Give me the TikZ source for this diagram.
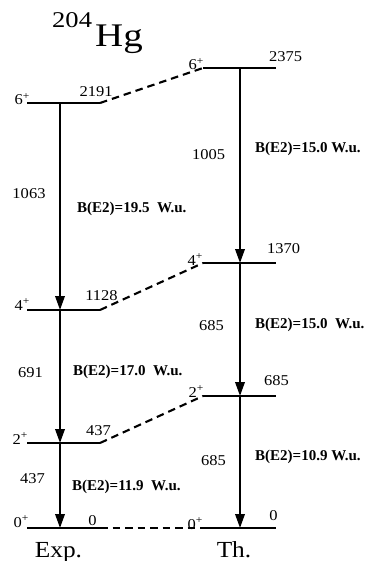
\documentclass[tikz,border=0pt]{standalone}
\usepackage{fontspec}
\setmainfont{Liberation Serif}
\newfontfamily\widefont[FakeStretch=1.1]{Liberation Serif}
\newfontfamily\titlefont[FakeStretch=1.18]{Liberation Serif}
\usetikzlibrary{arrows.meta}
\begin{document}
\begin{tikzpicture}[x=1pt,y=-1pt,
  lvl/.style={line width=2.1pt},
  tr/.style={line width=2pt,-{Triangle[length=14pt,width=9.5pt]}},
  lnk/.style={line width=2.1pt,dash pattern=on 7.5pt off 5pt},
  num/.style={font=\widefont\fontsize{15}{15}\selectfont,inner sep=0pt,anchor=base},
  spin/.style={font=\widefont\fontsize{15}{15}\selectfont,inner sep=0pt,anchor=base east},
  bee/.style={font=\bfseries\fontsize{15}{15}\selectfont,inner sep=0pt,anchor=base west},
]
\fill[white] (0,0) rectangle (372,561);
\useasboundingbox (0,0) rectangle (372,561);

% level coordinates: experiment
\coordinate (e6a) at (27,103);  \coordinate (e6m) at (60,103);  \coordinate (e6b) at (100,103);
\coordinate (e4a) at (27,310);  \coordinate (e4m) at (60,310);  \coordinate (e4b) at (100,310);
\coordinate (e2a) at (27,443);  \coordinate (e2m) at (60,443);  \coordinate (e2b) at (100,443);
\coordinate (e0a) at (27,528);  \coordinate (e0m) at (60,528);  \coordinate (e0b) at (100,528);
% level coordinates: theory
\coordinate (t6a) at (203,68);  \coordinate (t6m) at (240,68);  \coordinate (t6b) at (276,68);
\coordinate (t4a) at (203,263); \coordinate (t4m) at (240,263); \coordinate (t4b) at (276,263);
\coordinate (t2a) at (203,396); \coordinate (t2m) at (240,396); \coordinate (t2b) at (276,396);
\coordinate (t0a) at (203,528); \coordinate (t0m) at (240,528); \coordinate (t0b) at (276,528);

% levels
\draw[lvl] (e6a) -- (e6b);
\draw[lvl] (e4a) -- (e4b);
\draw[lvl] (e2a) -- (e2b);
\draw[lvl] (e0a) -- (e0b);
\draw[lvl] (t6a) -- (t6b);
\draw[lvl] (t4a) -- (t4b);
\draw[lvl] (t2a) -- (t2b);
\draw[lvl] (t0a) -- (t0b);

% links
\draw[lnk] (e6b) -- (t6a);
\draw[lnk] (e4b) -- (t4a);
\draw[lnk] (e2b) -- (t2a);
\draw[lnk] (e0b) -- (t0a);

% transitions
\draw[tr] (e6m) -- (e4m);
\draw[tr] (e4m) -- (e2m);
\draw[tr] (e2m) -- (e0m);
\draw[tr] (t6m) -- (t4m);
\draw[tr] (t4m) -- (t2m);
\draw[tr] (t2m) -- (t0m);

% title
\node[inner sep=0pt,anchor=base west,font=\titlefont\fontsize{22.5}{22.5}\selectfont] (ta) at (52,28) {204};
\node[inner sep=0pt,anchor=base west,font=\titlefont\fontsize{33}{33}\selectfont] (tb) at (95,47) {Hg};

% spins
\node[spin] (s6e) at (30,105) {6\textsuperscript{+}};
\node[spin] (s4e) at (30,310) {4\textsuperscript{+}};
\node[spin] (s2e) at (28,444) {2\textsuperscript{+}};
\node[spin] (s0e) at (29,527) {0\textsuperscript{+}};
\node[spin] (s6t) at (204,70) {6\textsuperscript{+}};
\node[spin] (s4t) at (203,265) {4\textsuperscript{+}};
\node[spin] (s2t) at (204,397) {2\textsuperscript{+}};
\node[spin] (s0t) at (203,529) {0\textsuperscript{+}};

% level energies
\node[num] (v2191) at (96,97) {2191};
\node[num] (v2375) at (285.5,62) {2375};
\node[num] (v1370) at (283.5,253) {1370};
\node[num] (v1128) at (101.5,300) {1128};
\node[num] (v685) at (276.5,385) {685};
\node[num] (v437) at (98.5,435) {437};
\node[num] (v0e) at (92.5,525) {0};
\node[num] (v0t) at (273.5,520) {0};

% transition energies
\node[num] (g1005) at (208.5,160) {1005};
\node[num] (g1063) at (29,198) {1063};
\node[num] (g685a) at (211.5,330) {685};
\node[num] (g691) at (30.5,377) {691};
\node[num] (g685b) at (213.5,465) {685};
\node[num] (g437) at (32.5,483) {437};

% B(E2)
\node[bee] (b1) at (255,153) {B(E2)=15.0 W.u.};
\node[bee] (b2) at (77,212) {B(E2)=19.5\ \ W.u.};
\node[bee] (b3) at (255,328) {B(E2)=15.0\ \ W.u.};
\node[bee] (b4) at (73,375) {B(E2)=17.0\ \ W.u.};
\node[bee] (b5) at (255,460) {B(E2)=10.9 W.u.};
\node[bee] (b6) at (72,490) {B(E2)=11.9\ \ W.u.};

% column labels
\node[inner sep=0pt,anchor=base,font=\widefont\fontsize{23}{23}\selectfont] (exp) at (58.5,557) {Exp.};
\node[inner sep=0pt,anchor=base,font=\widefont\fontsize{23}{23}\selectfont] (th) at (234,557) {Th.};
\end{tikzpicture}
\end{document}
